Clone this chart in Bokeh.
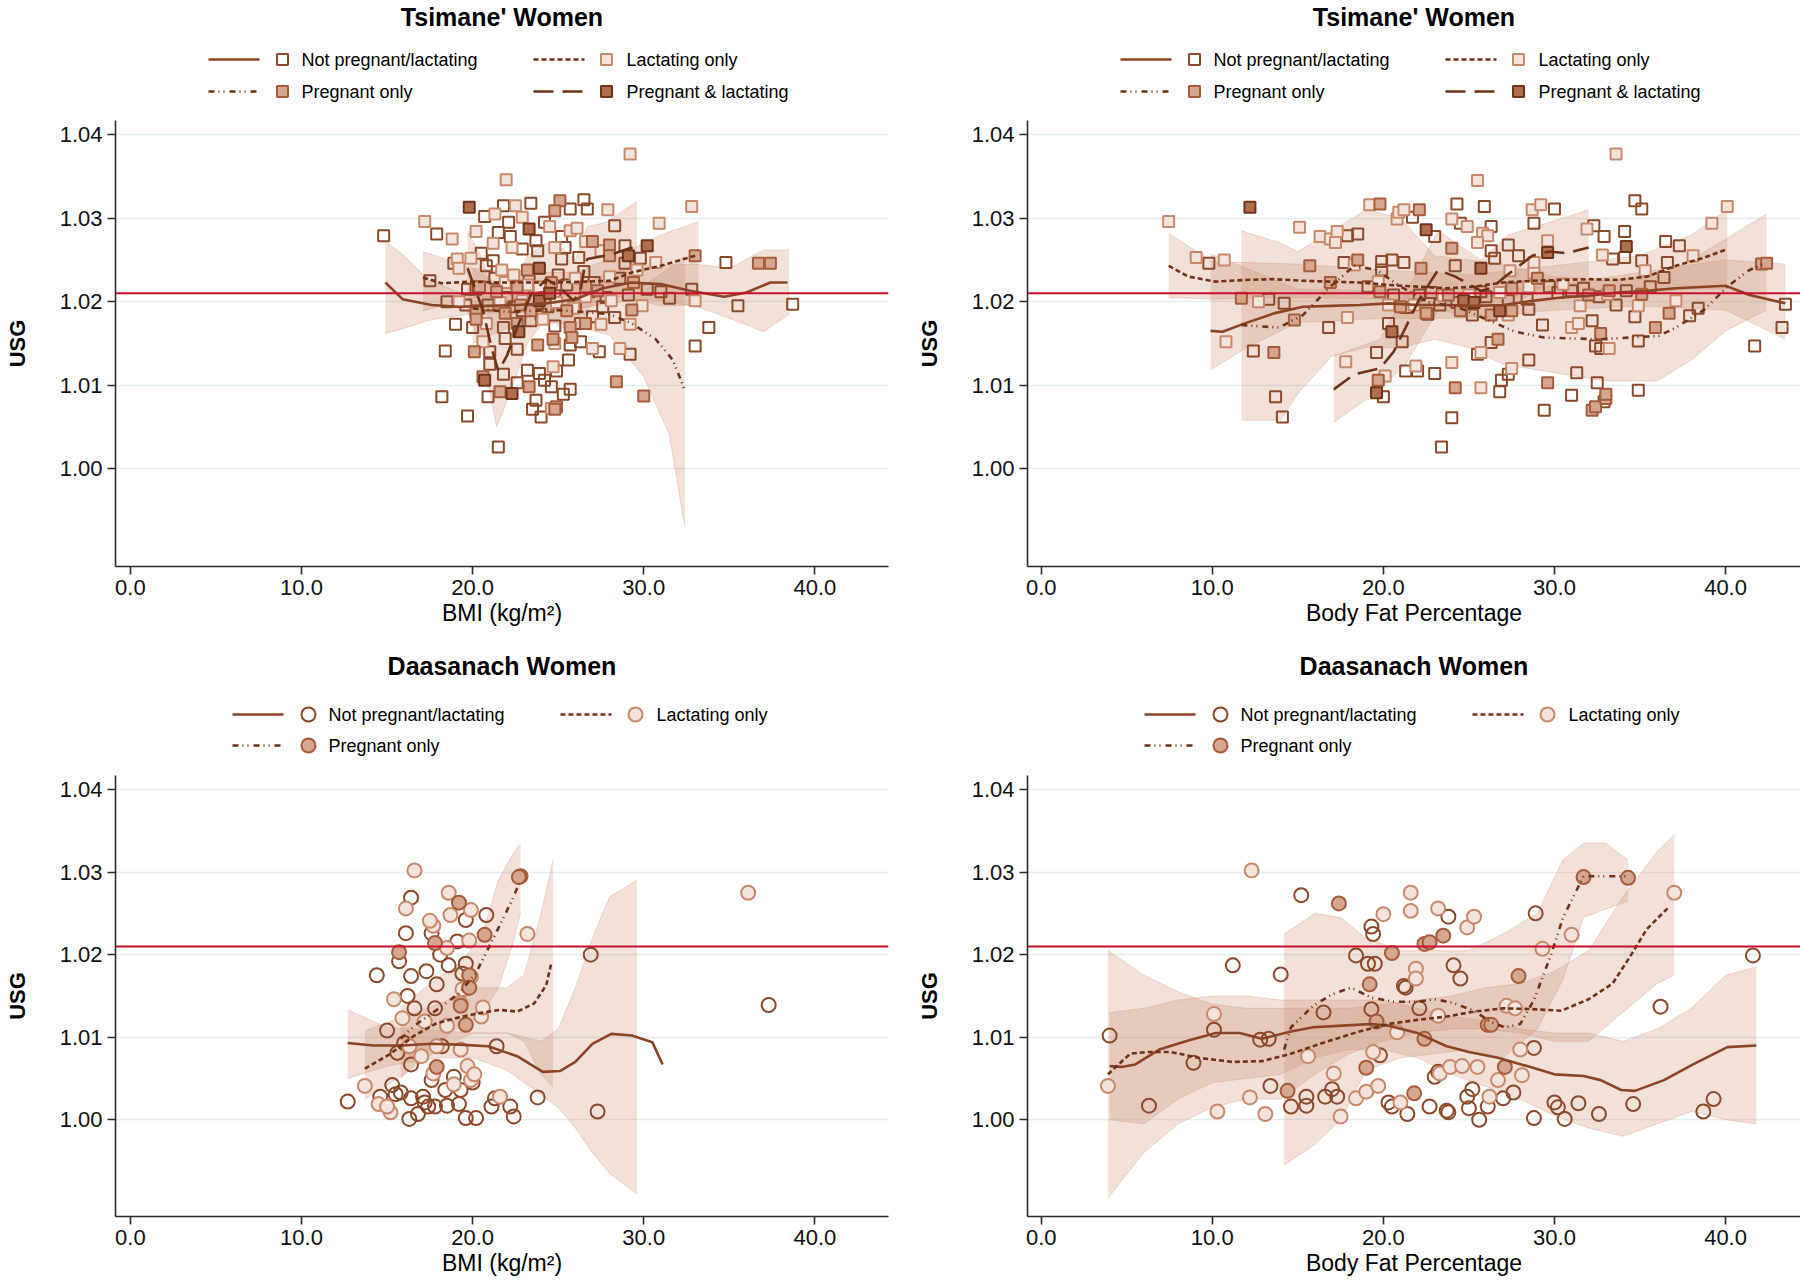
from bokeh.plotting import figure
from bokeh.models import Range1d, Span, FixedTicker, NumeralTickFormatter
from bokeh.layouts import column, row
from bokeh.core.properties import value
from bokeh.embed import file_html
from bokeh.resources import INLINE

FONT = "Liberation Sans"

# ---------------- data: Tsimane' women vs BMI ----------------
TL_NOT = [(21.8,1.0315),(23.4,1.0318),(26.5,1.0322),(26.7,1.0311),(25.7,1.0311),(20.7,1.0302),(22.1,1.0295),(28.3,1.0291),(24.2,1.0295),(14.8,1.0279),
          (17.9,1.0281),(21.5,1.0283),(22.2,1.0278),(23.7,1.0273),(25.2,1.0278),(28.9,1.0267),(29.8,1.0252),(34.8,1.0247),(38.7,1.0197),(22.9,1.0263),
          (23.8,1.0261),(25.4,1.0265),(26.2,1.0253),(25.2,1.0251),(18.9,1.0246),(21.2,1.0249),(20.8,1.0243),(28.9,1.0246),(21.3,1.0228),(23.3,1.0225),
          (25.5,1.0220),(27.1,1.0223),(28.6,1.0228),(31.0,1.0212),(33.0,1.0147),(33.8,1.0169),(18.5,1.0200),(19.6,1.0196),(20.9,1.0196),(22.4,1.0194),
          (24.4,1.0194),(26.0,1.0196),(27.6,1.0194),(29.1,1.0208),(19.0,1.0173),(20.0,1.0169),(21.8,1.0169),(23.4,1.0177),(24.8,1.0171),(26.3,1.0174),
          (28.3,1.0181),(18.4,1.0141),(21.0,1.0140),(21.9,1.0156),(22.6,1.0143),(25.7,1.0148),(26.3,1.0152),(27.4,1.0140),(29.2,1.0137),(25.6,1.0130),
          (21.0,1.0125),(21.8,1.0113),(23.2,1.0118),(23.9,1.0114),(24.2,1.0106),(24.9,1.0117),(22.6,1.0103),(24.6,1.0098),(25.7,1.0095),(25.3,1.0089),
          (18.2,1.0086),(20.9,1.0086),(23.7,1.0082),(23.5,1.0071),(24.0,1.0062),(19.7,1.0063),(21.5,1.0026),(22.0,1.0205),(23.0,1.0210),(24.8,1.0207),
          (26.8,1.0212),(20.2,1.0215),(25.0,1.0232),(27.8,1.0205),(30.2,1.0215),(24.0,1.0185),(22.9,1.0189),(27.0,1.0182),(31.5,1.0204),(32.8,1.0215),
          (35.5,1.0195),(20.5,1.0258),(17.5,1.0225),(19.7,1.0215),(26.5,1.0236)]
TL_LAC = [(29.2,1.0377),(21.96,1.0346),(27.9,1.0310),(32.8,1.0314),(22.5,1.0315),(21.3,1.0305),(22.9,1.0301),(17.2,1.0296),(30.9,1.0294),(24.5,1.0290),
          (18.8,1.0275),(20.2,1.0284),(21.2,1.0270),(25.7,1.0285),(26.1,1.0288),(26.6,1.0272),(30.7,1.0247),(22.3,1.0265),(24.8,1.0265),(19.1,1.0251),
          (19.9,1.0252),(21.7,1.0238),(27.5,1.0261),(19.2,1.0240),(21.9,1.0223),(23.9,1.0218),(26.0,1.0228),(28.0,1.0230),(29.6,1.0238),(33.0,1.0201),
          (19.2,1.0200),(21.6,1.0199),(22.9,1.0201),(24.9,1.0199),(26.6,1.0206),(28.1,1.0201),(29.9,1.0195),(20.8,1.0174),(24.1,1.0179),(27.5,1.0173),
          (29.2,1.0173),(20.6,1.0152),(24.8,1.0150),(27.0,1.0144),(28.6,1.0144),(24.7,1.0122),(24.6,1.0072),(23.2,1.0220),(25.9,1.0192),(22.4,1.0232)]
TL_PREG = [(25.1,1.0321),(24.8,1.0309),(27.0,1.0272),(28.0,1.0268),(33.0,1.0255),(36.7,1.0246),(37.4,1.0246),(28.0,1.0255),(23.2,1.0238),(20.4,1.0218),
           (22.6,1.0218),(24.6,1.0223),(26.6,1.0218),(29.4,1.0223),(20.2,1.0189),(21.9,1.0186),(23.4,1.0189),(25.5,1.0189),(27.3,1.0213),(29.3,1.0190),
           (20.2,1.0179),(22.6,1.0174),(25.7,1.0169),(26.6,1.0174),(20.1,1.0140),(23.8,1.0148),(24.7,1.0155),(25.8,1.0157),(20.6,1.0110),(23.3,1.0098),
           (21.6,1.0092),(24.9,1.0074),(24.8,1.0071),(28.4,1.0104),(30.0,1.0087),(21.4,1.0212),(24.2,1.0205),(22.8,1.0196)]
TL_PL = [(19.8,1.0313),(23.3,1.0287),(30.2,1.0267),(23.9,1.0240),(23.9,1.0201),(22.7,1.0164),(20.7,1.0106),(22.3,1.0090),(24.5,1.0210),(29.1,1.0255)]

TL_NOT_FIT = [(14.9,1.0223),(15.9,1.0203),(17.6,1.0196),(19.2,1.0194),(20.9,1.0195),(22.6,1.0196),(24.3,1.0198),(26.0,1.0203),(27.6,1.0216),(29.3,1.0223),
              (31.0,1.0221),(32.7,1.0213),(34.7,1.0206),(36.0,1.0211),(37.4,1.0223),(38.4,1.0223)]
TL_NOT_CI = [(14.9,1.0162,1.0272),(16.0,1.0168,1.0255),(17.5,1.0178,1.0225),(20.0,1.0186,1.0205),(25.0,1.0188,1.0210),(28.0,1.0198,1.0235),
             (30.0,1.0203,1.0243),(33.0,1.0195,1.0245),(35.0,1.0180,1.0240),(37.0,1.0164,1.0262),(38.5,1.0185,1.0262)]
TL_LAC_FIT = [(17.1,1.0229),(18.2,1.0222),(19.9,1.0224),(21.6,1.0223),(23.3,1.0223),(24.9,1.0223),(26.6,1.0224),(28.0,1.0225),(29.3,1.0235),(31.0,1.0243),(33.0,1.0255)]
TL_LAC_CI = [(17.1,1.0189,1.0260),(20.0,1.0205,1.0240),(23.0,1.0210,1.0235),(26.0,1.0210,1.0235),(29.0,1.0205,1.0260),(31.0,1.0195,1.0280),(33.2,1.0196,1.0296)]
TL_PREG_FIT = [(20.0,1.0192),(22.0,1.0188),(25.0,1.0190),(28.0,1.0185),(29.3,1.0174),(30.7,1.0155),(31.7,1.0130),(32.4,1.0094)]
TL_PREG_CI = [(20.0,1.0150,1.0240),(22.0,1.0168,1.0215),(25.0,1.0175,1.0210),(28.0,1.0160,1.0210),(30.0,1.0110,1.0220),(31.5,1.0040,1.0240),(32.4,0.9930,1.0255)]
TL_PL_FIT = [(19.7,1.0240),(20.6,1.0190),(21.1,1.0145),(21.5,1.0117),(22.0,1.0135),(22.6,1.0169),(23.4,1.0208),(24.3,1.0227),(25.1,1.0217),(25.9,1.0201),
             (26.3,1.0213),(26.5,1.0237),(26.7,1.0251),(28.2,1.0257),(29.6,1.0267)]
TL_PL_CI = [(19.7,1.0190,1.0285),(20.6,1.0135,1.0250),(21.4,1.0050,1.0190),(22.2,1.0090,1.0210),(23.2,1.0150,1.0255),(24.3,1.0180,1.0270),
            (25.2,1.0170,1.0265),(26.0,1.0160,1.0250),(26.7,1.0190,1.0290),(27.8,1.0210,1.0295),(29.6,1.0220,1.0320)]

# ---------------- data: Tsimane' women vs body fat ----------------
TR_NOT = [(9.8,1.0246),(13.3,1.0203),(12.4,1.0141),(13.7,1.0086),(14.1,1.0062),(14.2,1.0198),(17.9,1.0279),(18.5,1.0281),(17.7,1.0247),(16.8,1.0169),
          (19.1,1.0218),(19.9,1.0248),(19.9,1.0238),(20.3,1.0174),(19.6,1.0139),(20.0,1.0086),(20.5,1.0250),(21.2,1.0247),(21.7,1.0301),(21.3,1.0193),
          (21.1,1.0152),(21.3,1.0117),(22.0,1.0117),(22.6,1.0185),(23.0,1.0278),(23.0,1.0114),(24.3,1.0317),(24.5,1.0294),(24.2,1.0243),(24.0,1.0061),
          (23.4,1.0026),(25.9,1.0314),(26.3,1.0290),(26.3,1.0261),(26.5,1.0252),(27.3,1.0268),(27.9,1.0255),(25.5,1.0137),(26.3,1.0151),(26.8,1.0092),
          (26.9,1.0106),(27.3,1.0113),(28.5,1.0130),(28.4,1.0203),(28.8,1.0294),(30.0,1.0311),(29.3,1.0172),(29.4,1.0070),(31.0,1.0088),(31.3,1.0115),
          (32.2,1.0177),(32.4,1.0147),(32.7,1.0144),(32.5,1.0103),(32.9,1.0080),(32.3,1.0291),(32.9,1.0278),(34.1,1.0284),(34.1,1.0253),(33.4,1.0251),
          (34.7,1.0321),(35.1,1.0311),(35.1,1.0249),(35.6,1.0218),(34.7,1.0182),(34.9,1.0153),(34.9,1.0094),(36.5,1.0272),(37.3,1.0267),(36.6,1.0247),
          (36.4,1.0229),(37.9,1.0183),(38.4,1.0192),(43.5,1.0197),(43.3,1.0169),(41.7,1.0147),(22.8,1.0211),(24.3,1.0199),(25.2,1.0184),(26.0,1.0206),
          (27.3,1.0201),(28.5,1.0191),(30.2,1.0211),(31.0,1.0213),(31.7,1.0216),(32.6,1.0206),(33.6,1.0196),(34.2,1.0213),(29.7,1.0218),(23.3,1.0196),
          (20.6,1.0208),(22.1,1.0208),(25.7,1.0212)]
TR_LAC = [(7.45,1.0296),(9.06,1.0253),(10.7,1.0250),(10.8,1.0152),(12.7,1.0200),(15.1,1.0289),(16.3,1.0278),(16.9,1.0275),(17.2,1.0271),(17.3,1.0284),
          (18.3,1.0244),(17.9,1.0181),(17.8,1.0128),(19.2,1.0316),(19.7,1.0224),(20.1,1.0111),(20.8,1.0299),(20.9,1.0307),(21.2,1.0310),(21.9,1.0123),
          (24.0,1.0299),(24.9,1.0290),(24.0,1.0127),(25.8,1.0282),(26.1,1.0279),(25.5,1.0271),(25.5,1.0345),(27.4,1.0237),(25.7,1.0139),(25.7,1.0097),
          (27.5,1.0120),(28.7,1.0310),(29.2,1.0316),(29.6,1.0273),(28.8,1.0247),(28.8,1.0234),(31.0,1.0169),(31.4,1.0174),(33.2,1.0144),(31.9,1.0287),
          (32.8,1.0256),(33.6,1.0377),(35.3,1.0237),(34.9,1.0195),(37.1,1.0201),(38.1,1.0255),(39.2,1.0294),(40.1,1.0314),(23.5,1.0207),(26.8,1.0211),
          (30.5,1.0221),(33.1,1.0209),(31.5,1.0195),(28.5,1.0218),(21.8,1.0196),(20.3,1.0196),(25.0,1.0208),(27.3,1.0184)]
TR_PREG = [(11.7,1.0204),(13.6,1.0139),(14.8,1.0178),(15.7,1.0243),(18.5,1.0250),(16.9,1.0223),(19.8,1.0317),(19.8,1.0212),(19.7,1.0106),(22.1,1.0310),
           (22.2,1.0240),(24.0,1.0264),(24.2,1.0097),(26.7,1.0155),(29.0,1.0228),(29.6,1.0103),(32.7,1.0162),(32.2,1.0070),(32.4,1.0074),(33.0,1.0084),
           (33.0,1.0089),(35.9,1.0169),(36.7,1.0186),(42.1,1.0245),(42.4,1.0246),(23.8,1.0208),(24.5,1.0189),(27.5,1.0189),(32.0,1.0208),(33.2,1.0213),
           (35.1,1.0209),(27.5,1.0216),(21.0,1.0194),(22.5,1.0186),(26.3,1.0184)]
TR_PL = [(12.2,1.0313),(19.6,1.0091),(22.5,1.0286),(25.7,1.0240),(29.6,1.0259),(34.2,1.0266),(24.7,1.0201),(25.3,1.0199),(26.8,1.0189),(20.5,1.0164)]

TR_NOT_FIT = [(9.9,1.0165),(10.6,1.0164),(11.9,1.0174),(13.6,1.0186),(15.3,1.0194),(16.9,1.0195),(18.6,1.0196),(20.3,1.0198),(22.0,1.0196),(23.7,1.0196),
              (25.3,1.0195),(27.0,1.0196),(28.7,1.0201),(30.4,1.0205),(32.0,1.0207),(33.7,1.0211),(35.4,1.0213),(37.1,1.0216),(40.0,1.0219),(41.4,1.0208),(43.5,1.0198)]
TR_NOT_CI = [(9.9,1.0118,1.0257),(12.0,1.0145,1.0240),(15.0,1.0175,1.0215),(20.0,1.0180,1.0213),(25.0,1.0180,1.0210),(30.0,1.0190,1.0220),
             (35.0,1.0195,1.0235),(40.0,1.0190,1.0250),(43.5,1.0155,1.0245)]
TR_LAC_FIT = [(7.45,1.0243),(8.6,1.0230),(10.2,1.0224),(11.9,1.0226),(13.6,1.0227),(15.3,1.0225),(16.9,1.0224),(18.6,1.0223),(20.3,1.0220),(22.0,1.0218),
              (23.7,1.0216),(25.3,1.0218),(27.0,1.0223),(28.7,1.0225),(30.4,1.0226),(32.0,1.0227),(33.7,1.0226),(35.4,1.0230),(37.1,1.0243),(38.8,1.0253),(40.1,1.0263)]
TR_LAC_CI = [(7.45,1.0205,1.0282),(10.0,1.0203,1.0248),(15.0,1.0205,1.0245),(20.0,1.0203,1.0238),(25.0,1.0205,1.0232),(30.0,1.0210,1.0243),
             (35.0,1.0210,1.0255),(38.0,1.0215,1.0280),(40.1,1.0215,1.0310)]
TR_PREG_FIT = [(11.7,1.0172),(13.9,1.0169),(15.3,1.0184),(16.9,1.0218),(18.3,1.0243),(19.6,1.0238),(21.0,1.0218),(22.7,1.0199),(24.3,1.0194),(26.0,1.0179),
               (27.7,1.0164),(29.4,1.0157),(31.0,1.0156),(32.7,1.0155),(34.4,1.0157),(36.1,1.0159),(37.1,1.0169),(38.8,1.0191),(40.1,1.0218),(41.4,1.0238),(42.4,1.0247)]
TR_PREG_CI = [(11.7,1.0058,1.0285),(14.0,1.0058,1.0270),(15.0,1.0090,1.0260),(17.0,1.0135,1.0285),(19.0,1.0145,1.0310),(21.0,1.0145,1.0300),
              (23.0,1.0155,1.0255),(25.0,1.0145,1.0250),(27.0,1.0125,1.0245),(30.0,1.0115,1.0230),(33.0,1.0105,1.0225),(36.0,1.0105,1.0230),
              (38.0,1.0130,1.0250),(40.0,1.0165,1.0275),(42.4,1.0190,1.0305)]
TR_PL_FIT = [(17.1,1.0095),(18.3,1.0113),(19.8,1.0120),(20.6,1.0140),(21.3,1.0169),(22.1,1.0203),(23.2,1.0238),(24.2,1.0230),(25.7,1.0213),(26.3,1.0216),
             (27.3,1.0233),(28.7,1.0255),(29.7,1.0260),(30.7,1.0258),(32.0,1.0265)]
TR_PL_CI = [(17.1,1.0055,1.0135),(19.8,1.0095,1.0155),(21.3,1.0125,1.0210),(23.2,1.0190,1.0285),(25.7,1.0180,1.0250),(27.3,1.0190,1.0280),
            (29.7,1.0225,1.0295),(32.0,1.0230,1.0310)]

# ---------------- data: Daasanach women vs BMI ----------------
BL_NOT = [(12.7,1.0022),(14.4,1.0175),(15.3,1.0042),(14.6,1.0028),(15.0,1.0108),(16.1,1.0226),(16.4,1.0269),(15.7,1.0192),(16.2,1.0150),(16.4,1.0174),
          (16.6,1.0135),(16.0,1.0093),(15.6,1.0081),(16.4,1.0067),(15.8,1.0033),(16.4,1.0026),(16.3,1.0001),(16.8,1.0007),(17.1,1.0028),(17.4,1.0016),
          (17.3,1.0180),(17.6,1.0226),(17.8,1.0135),(17.9,1.0164),(18.1,1.0200),(18.4,1.0036),(18.5,1.0017),(17.8,1.0016),(18.6,1.0187),(19.1,1.0216),
          (19.6,1.0242),(19.6,1.0189),(19.4,1.0177),(18.9,1.0052),(19.3,1.0036),(19.2,1.0019),(19.6,1.0002),(20.2,1.0002),(20.8,1.0248),(20.0,1.0045),
          (21.1,1.0016),(21.3,1.0026),(21.4,1.0089),(22.2,1.0016),(22.4,1.0004),(23.8,1.0027),(26.9,1.0200),(27.3,1.0010),(37.3,1.0139),(18.2,1.0089),
          (17.6,1.0048),(17.2,1.0021),(15.5,1.0031)]
BL_LAC = [(16.6,1.0302),(16.1,1.0256),(15.4,1.0146),(15.9,1.0123),(13.7,1.0041),(14.5,1.0019),(15.2,1.0009),(15.0,1.0016),(17.0,1.0077),(17.7,1.0235),
          (17.7,1.0056),(18.6,1.0275),(18.7,1.0248),(18.5,1.0114),(18.9,1.0043),(19.3,1.0141),(19.3,1.0085),(19.6,1.0159),(19.8,1.0217),(19.9,1.0254),
          (19.7,1.0065),(19.9,1.0048),(20.1,1.0055),(20.5,1.0125),(20.6,1.0136),(21.6,1.0028),(23.2,1.0225),(36.1,1.0275),(17.9,1.0089),(17.2,1.0119),
          (16.3,1.0089),(17.5,1.0241),(18.5,1.0208),(19.9,1.0173),(19.4,1.0158)]
BL_PREG = [(22.8,1.0295),(22.7,1.0294),(19.2,1.0263),(20.7,1.0224),(15.7,1.0203),(17.8,1.0214),(19.3,1.0138),(19.6,1.0115),(19.8,1.0175),(19.8,1.0160),(17.9,1.0064)]

BL_NOT_FIT = [(12.7,1.0093),(14.2,1.0090),(15.9,1.0090),(17.6,1.0092),(19.2,1.0091),(20.9,1.0089),(22.6,1.0077),(24.1,1.0058),(25.1,1.0059),(26.0,1.0070),
              (27.0,1.0092),(28.1,1.0104),(29.3,1.0102),(30.5,1.0094),(31.1,1.0067)]
BL_NOT_CI = [(12.7,1.0050,1.0133),(15.0,1.0065,1.0112),(18.0,1.0075,1.0108),(20.0,1.0075,1.0105),(22.0,1.0060,1.0105),(24.0,1.0030,1.0095),
             (25.0,1.0015,1.0110),(26.0,0.9990,1.0160),(27.0,0.9960,1.0220),(28.0,0.9935,1.0270),(29.6,0.9910,1.0290)]
BL_LAC_FIT = [(13.7,1.0062),(15.2,1.0080),(16.6,1.0102),(17.9,1.0117),(19.2,1.0124),(20.6,1.0130),(21.6,1.0133),(22.6,1.0131),(23.6,1.0141),(24.3,1.0163),(24.6,1.0190)]
BL_LAC_CI = [(13.7,1.0025,1.0108),(16.0,1.0055,1.0125),(18.0,1.0085,1.0140),(20.0,1.0105,1.0160),(22.0,1.0105,1.0160),(23.0,1.0095,1.0175),
             (24.0,1.0055,1.0250),(24.7,1.0040,1.0315)]
BL_PREG_FIT = [(15.8,1.0098),(16.6,1.0114),(17.9,1.0133),(19.2,1.0153),(20.2,1.0178),(20.9,1.0207),(21.6,1.0236),(22.3,1.0266),(22.8,1.0290)]
BL_PREG_CI = [(15.8,1.0050,1.0135),(17.5,1.0085,1.0165),(19.0,1.0110,1.0185),(20.5,1.0125,1.0220),(21.5,1.0160,1.0290),(22.3,1.0210,1.0320),(22.8,1.0250,1.0335)]

# ---------------- data: Daasanach women vs body fat ----------------
BR_NOT = [(4.0,1.0102),(6.3,1.0017),(8.9,1.0069),(10.1,1.0109),(11.2,1.0187),(12.8,1.0097),(13.3,1.0098),(13.4,1.0041),(14.0,1.0176),(15.2,1.0272),
          (14.6,1.0016),(15.5,1.0017),(15.5,1.0028),(16.5,1.0130),(16.6,1.0028),(17.0,1.0037),(17.3,1.0028),(18.4,1.0199),(19.1,1.0189),(19.5,1.0189),
          (19.3,1.0234),(19.4,1.0225),(19.3,1.0134),(19.8,1.0078),(20.3,1.0021),(20.5,1.0016),(21.3,1.0160),(21.2,1.0162),(21.4,1.0007),(22.1,1.0135),
          (22.7,1.0016),(23.0,1.0052),(23.2,1.0058),(23.7,1.0011),(23.8,1.0009),(24.1,1.0187),(23.8,1.0246),(24.5,1.0171),(24.9,1.0028),(25.0,1.0014),
          (25.2,1.0037),(25.6,1.0000),(26.1,1.0016),(27.0,1.0026),(27.6,1.0033),(28.8,1.0087),(28.9,1.0250),(28.8,1.0002),(30.0,1.0021),(30.2,1.0015),
          (30.6,1.0001),(31.4,1.0020),(32.6,1.0007),(34.6,1.0019),(36.2,1.0137),(38.7,1.0010),(39.3,1.0025),(41.6,1.0199)]
BR_LAC = [(3.9,1.0041),(10.1,1.0128),(10.3,1.0010),(12.2,1.0027),(12.3,1.0302),(13.1,1.0007),(15.6,1.0077),(17.1,1.0056),(17.5,1.0004),(18.4,1.0026),
          (19.0,1.0034),(19.4,1.0082),(19.7,1.0041),(20.0,1.0249),(20.8,1.0106),(21.0,1.0021),(21.6,1.0275),(21.6,1.0253),(21.9,1.0183),(21.9,1.0171),
          (23.2,1.0126),(23.2,1.0256),(23.3,1.0056),(23.9,1.0064),(24.6,1.0065),(24.9,1.0233),(25.3,1.0246),(25.5,1.0064),(26.2,1.0028),(26.7,1.0048),
          (27.2,1.0138),(27.7,1.0135),(28.0,1.0085),(28.1,1.0054),(29.3,1.0207),(31.0,1.0224),(37.0,1.0275)]
BR_PREG = [(17.4,1.0262),(20.5,1.0202),(19.2,1.0164),(19.0,1.0063),(21.8,1.0032),(22.4,1.0213),(22.7,1.0215),(23.5,1.0223),(22.4,1.0098),(26.1,1.0115),
           (26.3,1.0115),(27.1,1.0064),(27.9,1.0174),(31.7,1.0294),(34.3,1.0293),(14.4,1.0035),(19.6,1.0119)]

BR_NOT_FIT = [(4.0,1.0065),(4.7,1.0064),(5.5,1.0067),(6.9,1.0085),(8.6,1.0096),(10.2,1.0105),(11.6,1.0105),(12.9,1.0098),(14.6,1.0107),(15.9,1.0112),
              (17.6,1.0114),(19.3,1.0116),(20.3,1.0114),(22.0,1.0105),(23.7,1.0089),(25.0,1.0082),(26.7,1.0075),(28.4,1.0065),(30.0,1.0055),(31.7,1.0053),
              (32.7,1.0048),(33.9,1.0036),(34.7,1.0035),(36.4,1.0048),(38.1,1.0067),(40.1,1.0088),(41.8,1.0090)]
BR_NOT_CI = [(4.0,1.0000,1.0130),(6.0,0.9995,1.0135),(8.0,1.0025,1.0145),(10.0,1.0045,1.0150),(12.0,1.0050,1.0150),(14.0,1.0055,1.0145),
             (16.0,1.0075,1.0145),(18.0,1.0085,1.0145),(20.0,1.0085,1.0145),(22.0,1.0075,1.0135),(24.0,1.0055,1.0125),(26.0,1.0040,1.0120),
             (28.0,1.0025,1.0110),(30.0,1.0005,1.0105),(32.0,0.9990,1.0105),(34.0,0.9980,1.0095),(36.0,0.9995,1.0110),(38.0,1.0010,1.0135),
             (40.0,1.0000,1.0175),(41.8,0.9995,1.0185)]
BR_LAC_FIT = [(3.9,1.0055),(5.2,1.0080),(6.2,1.0082),(7.6,1.0082),(9.2,1.0075),(11.2,1.0070),(12.9,1.0071),(14.6,1.0080),(16.6,1.0094),(18.6,1.0107),
              (20.3,1.0116),(22.0,1.0121),(23.7,1.0125),(25.3,1.0131),(27.0,1.0135),(28.7,1.0134),(30.4,1.0132),(32.0,1.0146),(33.4,1.0165),(34.4,1.0197),
              (35.4,1.0231),(36.7,1.0258)]
BR_LAC_CI = [(3.9,0.9905,1.0205),(6.0,0.9960,1.0175),(8.0,0.9995,1.0155),(10.0,1.0015,1.0140),(12.0,1.0025,1.0135),(14.0,1.0025,1.0135),
             (16.0,1.0055,1.0135),(18.0,1.0080,1.0135),(20.0,1.0095,1.0140),(22.0,1.0105,1.0145),(24.0,1.0110,1.0150),(26.0,1.0110,1.0160),
             (28.0,1.0105,1.0165),(30.0,1.0095,1.0180),(32.0,1.0095,1.0205),(34.0,1.0130,1.0270),(36.0,1.0165,1.0325),(37.0,1.0175,1.0345)]
BR_PREG_FIT = [(14.2,1.0085),(14.6,1.0112),(15.9,1.0138),(17.0,1.0152),(18.1,1.0160),(19.3,1.0148),(20.6,1.0143),(22.0,1.0143),(23.0,1.0146),(24.0,1.0142),
               (25.3,1.0132),(26.3,1.0118),(27.1,1.0112),(28.0,1.0116),(28.8,1.0145),(29.8,1.0200),(30.5,1.0245),(31.7,1.0295),(34.3,1.0295)]
BR_PREG_CI = [(14.2,0.9945,1.0225),(16.0,0.9970,1.0250),(17.5,1.0000,1.0245),(19.0,1.0060,1.0220),(21.0,1.0075,1.0205),(23.0,1.0080,1.0205),
              (25.0,1.0085,1.0205),(27.0,1.0075,1.0225),(29.0,1.0110,1.0250),(30.5,1.0170,1.0315),(31.7,1.0245,1.0335),(33.0,1.0255,1.0335),(34.3,1.0265,1.0315)]

X_TICKS = [0, 10, 20, 30, 40]
Y_TICKS = [1.00, 1.01, 1.02, 1.03, 1.04]
THRESHOLD = 1.021
LABELS = ["Not pregnant/lactating", "Lactating only", "Pregnant only", "Pregnant & lactating"]

# ---------------- styles ----------------
STYLE = {
    "Not pregnant/lactating": dict(fill=None, edge="#8B4A2B", dash="solid", lc="#8B4426"),
    "Lactating only": dict(fill="#F2E3DC", edge="#C8896B", dash="5 3", lc="#6E3217"),
    "Pregnant only": dict(fill="#D5A690", edge="#A65C3A", dash="6 4 1 4 1 5", lc="#6E3217"),
    "Pregnant & lactating": dict(fill="#B06E4E", edge="#6E3419", dash="20 9", lc="#6E3217"),
}
BAND = "#C98A6E"
RED = "#C8102E"
YR = (0.98828, 1.0417)


def main_fig(xr, fl, fw, fr, fh, fb, xlabel):
    p = figure(width=fl + fw + fr, height=fh + fb, x_range=Range1d(*xr), y_range=Range1d(*YR),
               output_backend="svg", toolbar_location=None,
               min_border_left=fl, min_border_right=fr, min_border_top=0, min_border_bottom=fb)
    p.outline_line_color = None
    p.background_fill_color = "white"
    p.xgrid.visible = False
    p.ygrid.grid_line_color = "#E4EDF0"
    p.ygrid.grid_line_width = 1.5
    p.xaxis.ticker = FixedTicker(ticks=X_TICKS)
    p.yaxis.ticker = FixedTicker(ticks=Y_TICKS)
    p.xaxis.formatter = NumeralTickFormatter(format="0.0")
    p.yaxis.formatter = NumeralTickFormatter(format="0.00")
    for ax in (p.xaxis, p.yaxis):
        ax.axis_line_color = "#2A2A2A"
        ax.axis_line_width = 1.6
        ax.major_tick_line_color = "#2A2A2A"
        ax.major_tick_line_width = 1.6
        ax.major_tick_out = 8
        ax.major_tick_in = 0
        ax.minor_tick_line_color = None
        ax.major_label_text_font = FONT
        ax.major_label_text_font_size = "22px"
        ax.major_label_text_color = "#111111"
        ax.axis_label_text_font = FONT
        ax.axis_label_text_color = "#000000"
    p.xaxis.major_label_standoff = 5
    p.yaxis.major_label_standoff = 5
    p.xaxis.axis_label = xlabel
    p.xaxis.axis_label_text_font_size = "23px"
    p.xaxis.axis_label_text_font_style = "normal"
    p.xaxis.axis_label_standoff = 2
    p.yaxis.axis_label = "USG"
    p.yaxis.axis_label_text_font_size = "22px"
    p.yaxis.axis_label_text_font_style = "bold"
    p.yaxis.axis_label_standoff = 27
    return p


def add_band(p, ci):
    bx = [c[0] for c in ci]
    lo = [c[1] for c in ci]
    hi = [c[2] for c in ci]
    p.varea(x=bx, y1=lo, y2=hi, fill_color=BAND, fill_alpha=0.26)
    p.line(bx, lo, line_color=BAND, line_alpha=0.3, line_width=1)
    p.line(bx, hi, line_color=BAND, line_alpha=0.3, line_width=1)


def add_points(p, pts, label, marker, size):
    st = STYLE[label]
    xs = [q[0] for q in pts]
    ys = [q[1] for q in pts]
    p.scatter(xs, ys, marker=marker, size=size, fill_color=st["fill"], line_color=st["edge"], line_width=2)


def add_fit(p, fit, label):
    st = STYLE[label]
    p.line([q[0] for q in fit], [q[1] for q in fit], line_color=st["lc"], line_width=2.6, line_dash=st["dash"])


def build_panel(xr, fl, fw, fr, fh, fb, xlabel, groups, marker, size):
    p = main_fig(xr, fl, fw, fr, fh, fb, xlabel)
    for label, pts, fit, ci in groups:
        add_band(p, ci)
    p.add_layout(Span(location=THRESHOLD, dimension="width", line_color=RED, line_width=2))
    for label, pts, fit, ci in groups:
        add_points(p, pts, label, marker, size)
    for label, pts, fit, ci in groups:
        add_fit(p, fit, label)
    return p


def legend_fig(w, h, fl, fw, title, title_y, rows_y, entries, cols, marker, size):
    p = figure(width=w, height=h, x_range=Range1d(0, w), y_range=Range1d(h, 0),
               output_backend="svg", toolbar_location=None, x_axis_type=None, y_axis_type=None,
               min_border=0)
    p.outline_line_color = None
    p.grid.visible = False
    p.text(x=[fl + fw / 2], y=[title_y], text=[title], text_font=value(FONT), text_font_size="25px",
           text_font_style="bold", text_align="center", text_baseline="middle", text_color="#000000")
    for i, label in enumerate(entries):
        st = STYLE[label]
        c = cols[i % 2]
        yy = rows_y[i // 2]
        p.segment(x0=[fl + c[0]], y0=[yy], x1=[fl + c[1]], y1=[yy], line_color=st["lc"], line_width=2.6,
                  line_dash=st["dash"])
        p.scatter([fl + c[2]], [yy], marker=marker, size=size, fill_color=st["fill"], line_color=st["edge"],
                  line_width=2)
        p.text(x=[fl + c[3]], y=[yy], text=[label], text_font=value(FONT), text_font_size="18px",
               text_align="left", text_baseline="middle", text_color="#000000")
    return p


# layout constants (pixels)
LFL, LFW, LFR = 115, 773, 12
RFL, RFW, RFR = 127, 773, 0
W = 900
XR_L = (-0.87, 44.3)
XR_R = (-0.8, 44.38)

TOP_ENTRIES = [LABELS[0], LABELS[1], LABELS[2], LABELS[3]]
BOT_ENTRIES = [LABELS[0], LABELS[1], LABELS[2]]
TOP_COLS = [(93, 144, 167, 186), (418, 469, 491, 511)]
BOT_COLS = [(117, 168, 193, 213), (445, 496, 520, 541)]

leg_tl = legend_fig(W, 120, LFL, LFW, "Tsimane' Women", 16, [59, 91], TOP_ENTRIES, TOP_COLS, "square", 11)
leg_tr = legend_fig(W, 120, RFL, RFW, "Tsimane' Women", 16, [59, 91], TOP_ENTRIES, TOP_COLS, "square", 11)
leg_bl = legend_fig(W, 135, LFL, LFW, "Daasanach Women", 25, [74, 105], BOT_ENTRIES, BOT_COLS, "circle", 14)
leg_br = legend_fig(W, 135, RFL, RFW, "Daasanach Women", 25, [74, 105], BOT_ENTRIES, BOT_COLS, "circle", 14)

tl = build_panel(XR_L, LFL, LFW, LFR, 446, 74, "BMI (kg/m\u00b2)",
                 [(LABELS[0], TL_NOT, TL_NOT_FIT, TL_NOT_CI), (LABELS[1], TL_LAC, TL_LAC_FIT, TL_LAC_CI),
                  (LABELS[2], TL_PREG, TL_PREG_FIT, TL_PREG_CI), (LABELS[3], TL_PL, TL_PL_FIT, TL_PL_CI)],
                 "square", 11)
tr = build_panel(XR_R, RFL, RFW, RFR, 446, 74, "Body Fat Percentage",
                 [(LABELS[0], TR_NOT, TR_NOT_FIT, TR_NOT_CI), (LABELS[1], TR_LAC, TR_LAC_FIT, TR_LAC_CI),
                  (LABELS[2], TR_PREG, TR_PREG_FIT, TR_PREG_CI), (LABELS[3], TR_PL, TR_PL_FIT, TR_PL_CI)],
                 "square", 11)
bl = build_panel(XR_L, LFL, LFW, LFR, 441, 64, "BMI (kg/m\u00b2)",
                 [(LABELS[0], BL_NOT, BL_NOT_FIT, BL_NOT_CI), (LABELS[1], BL_LAC, BL_LAC_FIT, BL_LAC_CI),
                  (LABELS[2], BL_PREG, BL_PREG_FIT, BL_PREG_CI)],
                 "circle", 14)
br = build_panel(XR_R, RFL, RFW, RFR, 441, 64, "Body Fat Percentage",
                 [(LABELS[0], BR_NOT, BR_NOT_FIT, BR_NOT_CI), (LABELS[1], BR_LAC, BR_LAC_FIT, BR_LAC_CI),
                  (LABELS[2], BR_PREG, BR_PREG_FIT, BR_PREG_CI)],
                 "circle", 14)

layout = column(row(leg_tl, leg_tr), row(tl, tr), row(leg_bl, leg_br), row(bl, br))

open("out.html", "w").write(file_html(layout, INLINE))
